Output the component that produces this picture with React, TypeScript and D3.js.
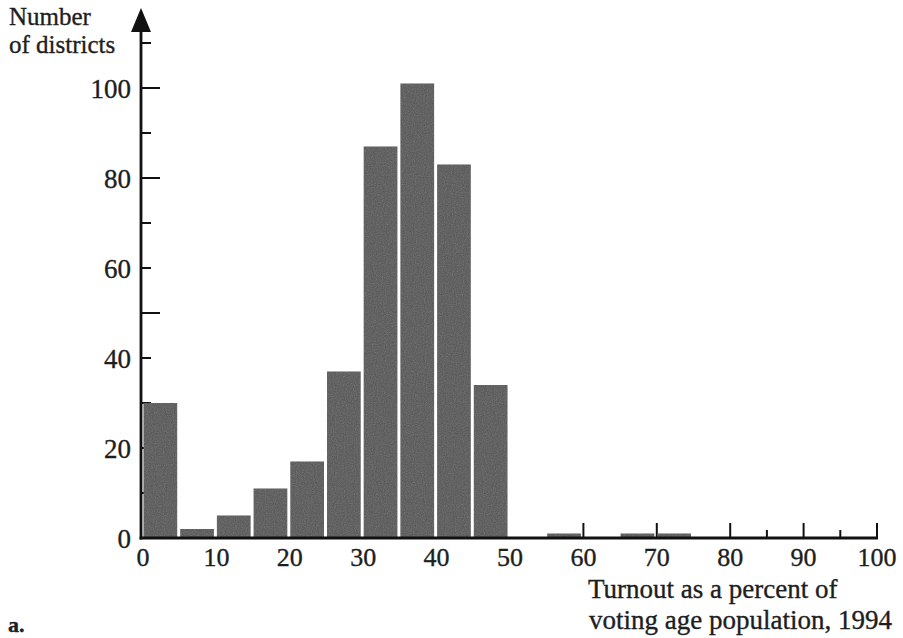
import React from "react";
import * as d3 from "d3";

const binStarts = [0, 5, 10, 15, 20, 25, 30, 35, 40, 45, 50, 55, 60, 65, 70, 75, 80, 85, 90, 95];
const counts = [30, 2, 5, 11, 17, 37, 87, 101, 83, 34, 0, 1, 0, 1, 1, 0, 0, 0, 0, 0];
const binWidth = 5;
const xTickLabels = [0, 10, 20, 30, 40, 50, 60, 70, 80, 90, 100];
const xTickMarksMajor = [60, 70, 80, 90, 100];
const xTickMarksMinor = [85, 95];
const yTickLabels = [0, 20, 40, 60, 80, 100];
const yTickMajor = [20, 50, 80, 100];
const yTickMinor = [10, 30, 40, 60, 70, 90, 110];
const yTitleLines = ["Number", "of districts"];
const xTitleLines = ["Turnout as a percent of", "voting age population, 1994"];

const W = 903;
const H = 638;

export default function App() {
  const x = d3.scaleLinear().domain([0, 100]).range([143, 877]);
  const y = d3.scaleLinear().domain([0, 100]).range([538, 88]);
  const axisX = 141;
  const font = "'Liberation Serif', 'Times New Roman', serif";
  const textColor = "#1e1e1e";
  const barFill = "#555555";
  const textProps = { fontFamily: font, fill: textColor, stroke: textColor, strokeWidth: 0.35 };

  return (
    <svg
      width={W}
      height={H}
      viewBox={`0 0 ${W} ${H}`}
      style={{ position: "absolute", left: 0, top: 0, background: "#fff" }}
    >
      <defs>
        <filter id="grain" x="0" y="0" width="100%" height="100%">
          <feTurbulence type="fractalNoise" baseFrequency="0.9" numOctaves="2" seed="3" result="n" />
          <feColorMatrix type="saturate" values="0" in="n" result="g" />
          <feComponentTransfer in="g" result="ga">
            <feFuncA type="linear" slope="0.18" />
          </feComponentTransfer>
          <feComposite in="ga" in2="SourceGraphic" operator="in" result="gi" />
          <feMerge>
            <feMergeNode in="SourceGraphic" />
            <feMergeNode in="gi" />
          </feMerge>
        </filter>
      </defs>

      {/* y axis ticks */}
      {yTickMajor.map((v) => (
        <line key={"ym" + v} x1={axisX} x2={axisX + 19} y1={y(v)} y2={y(v)} stroke="#111" strokeWidth={2} />
      ))}
      {yTickMinor.map((v) => (
        <line key={"yn" + v} x1={axisX} x2={axisX + 10} y1={y(v)} y2={y(v)} stroke="#111" strokeWidth={2} />
      ))}

      {/* x axis ticks (upward) */}
      {xTickMarksMajor.map((v) => (
        <line key={"xm" + v} x1={x(v)} x2={x(v)} y1={538} y2={523} stroke="#111" strokeWidth={2} />
      ))}
      {xTickMarksMinor.map((v) => (
        <line key={"xn" + v} x1={x(v)} x2={x(v)} y1={538} y2={530} stroke="#111" strokeWidth={2} />
      ))}

      {/* bars */}
      <g filter="url(#grain)">
        {binStarts.map((s, i) =>
          counts[i] > 0 ? (
            <rect
              key={"b" + s}
              x={x(s) + 0.5}
              y={y(counts[i])}
              width={x(s + binWidth) - x(s) - 3}
              height={y(0) - y(counts[i])}
              fill={barFill}
            />
          ) : null
        )}
      </g>

      {/* axes lines */}
      <line x1={axisX} x2={axisX} y1={28} y2={539.5} stroke="#111" strokeWidth={2.8} />
      <line x1={axisX - 1.4} x2={x(100) + 1} y1={538} y2={538} stroke="#111" strokeWidth={2.8} />
      <path d={`M${axisX - 10},32 L${axisX},8 L${axisX + 10},32 Z`} fill="#111" />

      {/* y tick labels */}
      {yTickLabels.map((v) => (
        <text key={"yl" + v} x={131} y={y(v) + 9.5} textAnchor="end" fontSize={27} {...textProps}>
          {v}
        </text>
      ))}

      {/* x tick labels */}
      {xTickLabels.map((v) => (
        <text key={"xl" + v} x={x(v)} y={566} textAnchor="middle" fontSize={26} {...textProps}>
          {v}
        </text>
      ))}

      {/* y axis title */}
      <text x={9} y={25} fontSize={25} {...textProps}>
        {yTitleLines[0]}
      </text>
      <text x={9} y={53} fontSize={25} {...textProps}>
        {yTitleLines[1]}
      </text>

      {/* x axis title */}
      <text x={588} y={598} fontSize={27} {...textProps}>
        {xTitleLines[0]}
      </text>
      <text x={589} y={629} fontSize={27} {...textProps}>
        {xTitleLines[1]}
      </text>

      {/* panel label */}
      <text x={8} y={632} fontSize={22} fontWeight="bold" {...textProps}>
        a.
      </text>
    </svg>
  );
}
